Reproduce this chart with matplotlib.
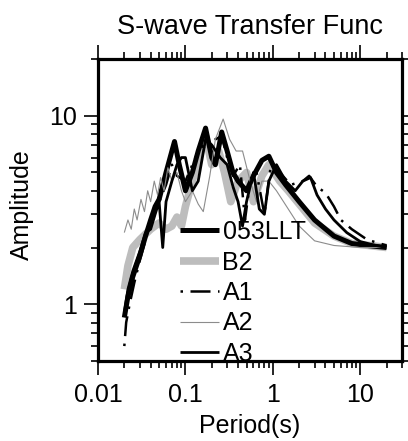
import matplotlib
matplotlib.use("Agg")
import matplotlib.pyplot as plt
from matplotlib.ticker import LogLocator, NullFormatter, FixedLocator, FixedFormatter

plt.rcParams['font.family'] = ['Liberation Sans', 'DejaVu Sans']

# ---- data ----
labels = ["053LLT", "B2", "A1", "A2", "A3"]

T_053 = [0.02, 0.022, 0.025, 0.03, 0.035, 0.04, 0.045, 0.05, 0.06, 0.07, 0.075, 0.085, 0.1, 0.12,
         0.14, 0.17, 0.2, 0.22, 0.26, 0.3, 0.35, 0.4, 0.5, 0.6, 0.75, 0.9, 1.1, 1.4, 2, 3, 5, 8, 12, 20]
A_053 = [0.85, 1.1, 1.4, 1.8, 2.3, 2.8, 3.3, 3.6, 5.0, 6.5, 7.3, 5.5, 4.0, 5.0,
         6.5, 8.6, 6.0, 5.5, 8.2, 6.5, 5.0, 4.5, 4.0, 4.8, 5.8, 6.1, 5.0, 4.3, 3.5, 2.8, 2.3, 2.1, 2.05, 2.0]

T_B2 = [0.02, 0.022, 0.025, 0.03, 0.04, 0.05, 0.06, 0.07, 0.08, 0.09, 0.1, 0.12, 0.15, 0.17,
        0.2, 0.24, 0.28, 0.33, 0.4, 0.5, 0.6, 0.75, 0.9, 1.2, 1.5, 2, 3, 5, 8, 20]
A_B2 = [1.2, 1.6, 2.0, 2.2, 2.5, 2.7, 2.5, 2.6, 2.9, 2.6, 3.3, 4.5, 6.5, 7.8,
        5.5, 6.5, 5.0, 3.5, 4.5, 5.0, 3.5, 4.8, 5.5, 4.5, 4.0, 3.4, 2.7, 2.3, 2.1, 2.0]

T_A1 = [0.02, 0.021, 0.023, 0.026, 0.03, 0.035, 0.04, 0.05, 0.06, 0.07, 0.08, 0.1, 0.12, 0.15,
        0.18, 0.22, 0.26, 0.3, 0.35, 0.42, 0.48, 0.55, 0.65, 0.8, 0.95, 1.2, 1.6, 2.2, 2.6, 3.2,
        4, 5, 6, 8, 12, 20]
A_A1 = [0.6, 0.8, 1.0, 1.3, 1.7, 2.2, 2.8, 3.5, 4.3, 5.5, 4.8, 4.5, 5.5, 7.0,
        6.5, 7.5, 7.8, 6.0, 4.8, 5.5, 2.8, 4.5, 5.0, 3.0, 5.5, 5.0, 4.3, 4.5, 4.8, 4.2,
        3.9, 3.3, 2.8, 2.5, 2.2, 2.05]

T_A2 = [0.02, 0.022, 0.024, 0.026, 0.028, 0.031, 0.034, 0.037, 0.04, 0.044, 0.048, 0.052,
        0.057, 0.063, 0.07, 0.08, 0.09, 0.1, 0.12, 0.14, 0.16, 0.19, 0.22, 0.27, 0.32, 0.38,
        0.45, 0.55, 0.65, 0.75, 0.9, 1.1, 1.5, 2, 3, 5, 10, 20]
A_A2 = [2.4, 2.8, 2.5, 3.2, 2.8, 3.6, 3.1, 4.0, 3.5, 4.5, 3.8, 4.7,
        4.0, 5.3, 4.5, 5.0, 4.0, 3.5, 4.0, 3.4, 3.1, 4.8, 7.5, 9.6, 7.5, 6.5,
        6.5, 4.5, 3.5, 4.5, 4.5, 4.0, 3.2, 2.6, 2.17, 2.05, 2.0, 2.0]

T_A3 = [0.02, 0.022, 0.025, 0.03, 0.035, 0.04, 0.045, 0.05, 0.055, 0.06, 0.07, 0.08, 0.09,
        0.1, 0.12, 0.14, 0.17, 0.2, 0.25, 0.3, 0.35, 0.4, 0.45, 0.5, 0.6, 0.7, 0.8, 0.9, 1.1,
        1.4, 1.8, 2.2, 2.7, 3.2, 4, 5, 7, 10, 15, 20]
A_A3 = [0.9, 1.2, 1.5, 1.9, 2.4, 2.5, 3.0, 3.5, 2.0, 3.5, 4.5, 5.5, 6.0,
        6.0, 4.0, 4.5, 7.5, 7.0, 6.0, 5.5, 4.2, 3.5, 2.6, 3.5, 5.0, 3.2, 3.0, 4.5, 5.5,
        4.5, 4.0, 4.5, 4.7, 3.8, 3.2, 2.8, 2.4, 2.15, 2.05, 2.0]

x_ticks = [0.01, 0.1, 1, 10]
x_tick_labels = ["0.01", "0.1", "1", "10"]
y_ticks = [1, 10]
y_tick_labels = ["1", "10"]

# ---- figure ----
W, H = 408, 441
fig = plt.figure(figsize=(W / 100, H / 100), dpi=100)
L, R, B, Tp = 98, 402, 361, 59
ax = fig.add_axes([L / W, 1 - B / H, (R - L) / W, (B - Tp) / H])

ax.plot(T_B2, A_B2, color="#bdbdbd", lw=5.5, solid_joinstyle="round", solid_capstyle="butt",
        label=labels[1], zorder=2)
ax.plot(T_053, A_053, color="black", lw=3.6, solid_joinstyle="round", solid_capstyle="butt",
        label=labels[0], zorder=3)
ax.plot(T_A1, A_A1, color="black", lw=1.8, dashes=(1, 3, 8, 3), label=labels[2], zorder=3)
ax.plot(T_A2, A_A2, color="#8c8c8c", lw=0.8, solid_capstyle="butt", label=labels[3], zorder=3)
ax.plot(T_A3, A_A3, color="black", lw=2.0, solid_joinstyle="round", solid_capstyle="butt",
        label=labels[4], zorder=3)

ax.set_xscale("log")
ax.set_yscale("log")
ax.set_xlim(0.01, 30)
ax.set_ylim(0.5, 20)

ax.xaxis.set_major_locator(FixedLocator(x_ticks))
ax.xaxis.set_major_formatter(FixedFormatter(x_tick_labels))
ax.yaxis.set_major_locator(FixedLocator(y_ticks))
ax.yaxis.set_major_formatter(FixedFormatter(y_tick_labels))
ax.xaxis.set_minor_locator(LogLocator(base=10, subs=range(2, 10)))
ax.yaxis.set_minor_locator(LogLocator(base=10, subs=range(2, 10)))
ax.xaxis.set_minor_formatter(NullFormatter())
ax.yaxis.set_minor_formatter(NullFormatter())

ax.tick_params(which="both", direction="out", top=True, right=True, width=1.2, colors="black")
ax.tick_params(which="major", length=10, labelsize=18, pad=5)
ax.tick_params(which="minor", length=5)
ax.tick_params(axis="x", which="major", pad=6)

for sp in ax.spines.values():
    sp.set_linewidth(2.3)
    sp.set_zorder(6)

# legend order
handles, labs = ax.get_legend_handles_labels()
order = [labs.index(l) for l in labels]
leg = ax.legend([handles[i] for i in order], [labs[i] for i in order],
                loc="upper left", bbox_to_anchor=((180 - L) / (R - L), (B - 220) / (B - Tp)),
                frameon=False, fontsize=18, handlelength=1.55, handletextpad=0.15,
                labelspacing=0.26, borderpad=0, borderaxespad=0)
leg.set_zorder(5)

fig.text(250 / W, 1 - 34 / H, "S-wave Transfer Func", ha="center", va="baseline", fontsize=19.5)
fig.text(250 / W, 1 - 433 / H, "Period(s)", ha="center", va="baseline", fontsize=18)
fig.text(22 / W, 1 - 205 / H, "Amplitude", ha="center", va="center", rotation=90, fontsize=18)

fig.savefig("out.png", dpi=100)
